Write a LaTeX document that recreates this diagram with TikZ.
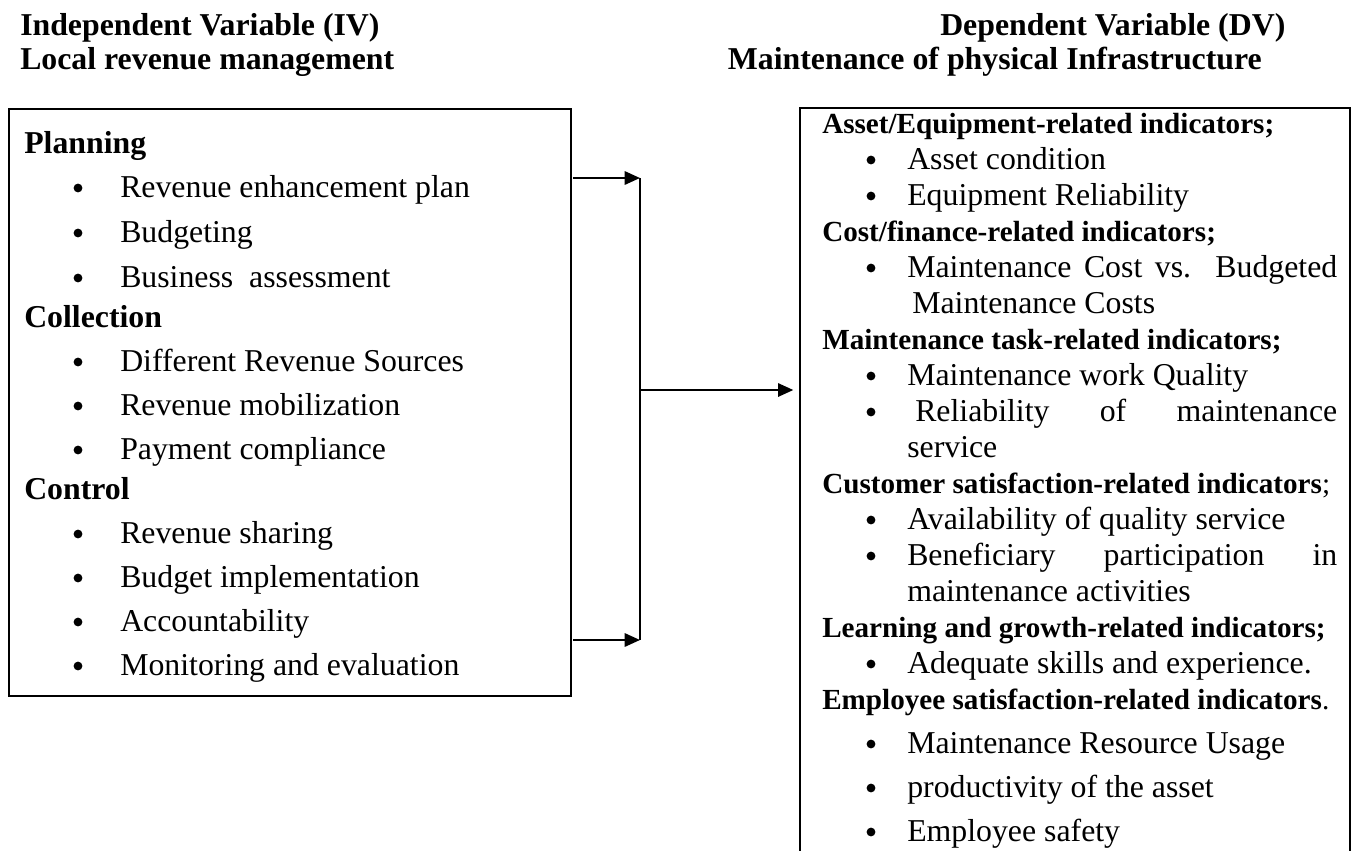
\documentclass[tikz,border=0pt]{standalone}
\usepackage{fontspec}
\setmainfont{Liberation Serif}
\usetikzlibrary{arrows.meta}
\begin{document}
\begin{tikzpicture}[x=0.75pt,y=-0.75pt,
  title/.style={font=\fontsize{23.85}{28}\selectfont\bfseries, anchor=base west, inner sep=0pt},
  grouphead/.style={font=\fontsize{23.85}{28}\selectfont\bfseries, anchor=base west, inner sep=0pt},
  ind/.style={font=\fontsize{21.86}{26}\selectfont\bfseries, anchor=base west, inner sep=0pt},
  itemtext/.style={font=\fontsize{23.85}{28}\selectfont, anchor=base west, inner sep=0pt},
  bul/.style={circle, fill=black, inner sep=0pt, minimum size=6.6pt},
  boxline/.style={line width=1.5pt},
  conn/.style={line width=1.6pt, -{Triangle[length=11.5pt,width=10pt]}},
  vline/.style={line width=1pt}
]
\useasboundingbox (0,0) rectangle (1359,850);

% ---- column titles ----
\node[title] (ivt1) at (20,35) {Independent Variable (IV)};
\node[title] (ivt2) at (20,69) {Local revenue management};
\node[title] (dvt1) at (940,35) {Dependent Variable (DV)};
\node[title, anchor=base east] (dvt2) at (1262,69) {Maintenance of physical Infrastructure};

% ---- independent variable box ----
\node[draw, boxline, anchor=north west, inner sep=0pt,
      minimum width=421.5pt, minimum height=440.25pt] (ivbox) at (8,108) {};

\node[grouphead] (plan) at (24,153) {Planning};
\node[bul] (pb1) at (78,188) {}; \node[itemtext] (pt1) at (120,197) {Revenue enhancement plan};
\node[bul] (pb2) at (78,233) {}; \node[itemtext] (pt2) at (120,242) {Budgeting};
\node[bul] (pb3) at (78,278) {}; \node[itemtext] (pt3) at (120,287) {Business\ \ assessment};

\node[grouphead] (coll) at (24,327) {Collection};
\node[bul] (cb1) at (78,362) {}; \node[itemtext] (ct1) at (120,371) {Different Revenue Sources};
\node[bul] (cb2) at (78,406) {}; \node[itemtext] (ct2) at (120,415) {Revenue mobilization};
\node[bul] (cb3) at (78,450) {}; \node[itemtext] (ct3) at (120,459) {Payment compliance};

\node[grouphead] (ctrl) at (24,499) {Control};
\node[bul] (kb1) at (78,534) {}; \node[itemtext] (kt1) at (120,543) {Revenue sharing};
\node[bul] (kb2) at (78,578) {}; \node[itemtext] (kt2) at (120,587) {Budget implementation};
\node[bul] (kb3) at (78,622) {}; \node[itemtext] (kt3) at (120,631) {Accountability};
\node[bul] (kb4) at (78,666) {}; \node[itemtext] (kt4) at (120,675) {Monitoring and evaluation};

% ---- dependent variable box (runs off the bottom of the page) ----
\node[anchor=north west, inner sep=0pt,
      minimum width=411.75pt, minimum height=556.5pt] (dvbox) at (800,108) {};
\draw[boxline] (dvbox.south west) -- (dvbox.north west) -- (dvbox.north east) -- (dvbox.south east);

\node[ind] (h1) at (822,133) {Asset/Equipment-related indicators;};
\node[bul] (r1b) at (871,160) {}; \node[itemtext] (r1) at (907,169) {Asset condition};
\node[bul] (r2b) at (871,196) {}; \node[itemtext] (r2) at (907,205) {Equipment Reliability};

\node[ind] (h2) at (822,241) {Cost/finance-related indicators;};
\node[bul] (r3b) at (871,268) {}; \node[itemtext] (r3) at (907,277) {\makebox[322.5pt][s]{Maintenance Cost vs. Budgeted}};
\node[itemtext] (r3c) at (912,313) {Maintenance Costs};

\node[ind] (h3) at (822,349) {Maintenance task-related indicators;};
\node[bul] (r4b) at (871,376) {}; \node[itemtext] (r4) at (907,385) {Maintenance work Quality};
\node[bul] (r5b) at (871,412) {}; \node[itemtext] (r5) at (915,421) {\makebox[316.5pt][s]{Reliability of maintenance}};
\node[itemtext] (r5c) at (907,457) {service};

\node[ind] (h4) at (822,493) {Customer satisfaction-related indicators\mdseries;};
\node[bul] (r6b) at (871,520) {}; \node[itemtext] (r6) at (907,529) {Availability of quality service};
\node[bul] (r7b) at (871,556) {}; \node[itemtext] (r7) at (907,565) {\makebox[322.5pt][s]{Beneficiary participation in}};
\node[itemtext] (r7c) at (907,601) {maintenance activities};

\node[ind] (h5) at (822,637) {Learning and growth-related indicators;};
\node[bul] (r8b) at (871,664) {}; \node[itemtext] (r8) at (907,673) {Adequate skills and experience.};

\node[ind] (h6) at (822,709) {Employee satisfaction-related indicators\mdseries.};
\node[bul] (r9b) at (871,744) {}; \node[itemtext] (r9) at (907,753) {Maintenance Resource Usage};
\node[bul] (r10b) at (871,788) {}; \node[itemtext] (r10) at (907,797) {productivity of the asset};
\node[bul] (r11b) at (871,832) {}; \node[itemtext] (r11) at (907,841) {Employee safety};

% ---- connectors ----
\coordinate (s1) at (573,178);
\coordinate (j1) at (640,178);
\coordinate (s2) at (573,640);
\coordinate (j2) at (640,640);
\coordinate (jm) at (640,390);
\draw[conn] (s1) -- (j1);
\draw[conn] (s2) -- (j2);
\draw[vline] (j1) -- (j2);
\draw[conn, shorten >=5pt] (jm) -- (jm -| dvbox.west);
\end{tikzpicture}
\end{document}
